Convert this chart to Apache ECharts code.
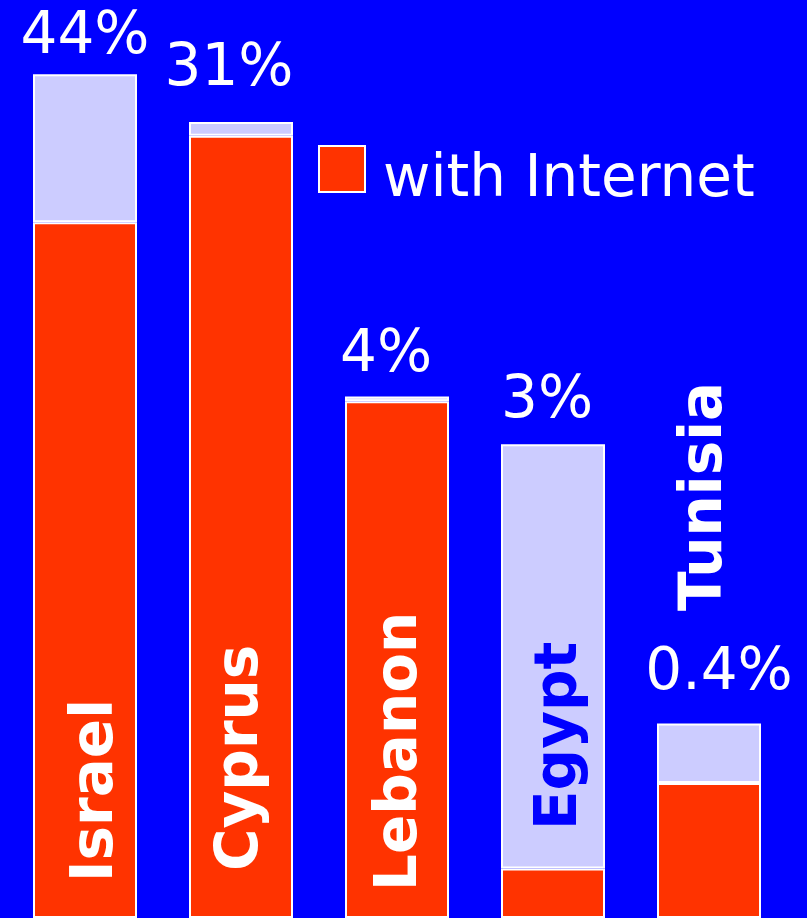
<!DOCTYPE html>
<html>
<head>
<meta charset="utf-8">
<script src="https://cdn.jsdelivr.net/npm/echarts@6/dist/echarts.min.js"></script>
<style>
  html, body { margin: 0; padding: 0; background: #0000ff; }
  #chart { width: 807px; height: 918px; }
</style>
</head>
<body>
<div id="chart"></div>
<script>
// Countries and bar segments (index units)
const countries = ['Israel', 'Cyprus', 'Lebanon', 'Egypt', 'Tunisia'];
const withInternet = [75.8, 85.2, 56.3, 5.4, 14.7];
const withoutInternet = [16.1, 1.5, 0.5, 46.2, 6.5];
const shareLabels = ['44%', '31%', '4%', '3%', '0.4%'];

const RED = '#ff3300';
const LAVENDER = '#ccccff';
const BLUE = '#0000ff';
const FONT = 'DejaVu Sans';

// Placement tweaks for the rotated country names: [shift up from bar base, shift right]
const namePlacement = [[36, 12], [47, 1], [27, 4], [88, 8], [307, -3]];
// Placement tweaks for the share labels above the bars: [dx, dy]
const sharePlacement = [[0, 0], [-12, -16], [-11, -5], [-6, -6], [10, -13]];

const redData = withInternet.map((v, i) => ({
  value: v,
  label: {
    show: true,
    formatter: countries[i],
    position: 'insideBottom',
    distance: 0,
    rotate: 90,
    align: 'left',
    verticalAlign: 'middle',
    offset: namePlacement[i],
    color: countries[i] === 'Egypt' ? BLUE : '#ffffff',
    fontFamily: FONT,
    fontWeight: 'bold',
    fontSize: 58
  }
}));

const topData = withoutInternet.map((v, i) => ({
  value: v,
  label: {
    show: true,
    formatter: shareLabels[i],
    position: 'top',
    distance: 7,
    offset: sharePlacement[i],
    color: '#ffffff',
    fontFamily: FONT,
    fontSize: 58
  }
}));

const chart = echarts.init(document.getElementById('chart'));
chart.setOption({
  backgroundColor: BLUE,
  animation: false,
  grid: { left: 7, right: 20, top: 0, bottom: -5 },
  legend: {
    data: ['with Internet'],
    left: 318,
    top: 128,
    padding: 0,
    itemWidth: 46,
    itemHeight: 46,
    icon: 'rect',
    // a leading empty line drops the text a little below the swatch centre
    formatter: name => '\n' + name,
    textStyle: {
      color: '#ffffff',
      fontFamily: FONT,
      fontSize: 58,
      lineHeight: 24,
      padding: [0, 0, 0, 13]
    }
  },
  xAxis: {
    type: 'category',
    data: countries,
    show: false
  },
  yAxis: {
    type: 'value',
    min: 0,
    max: 100,
    show: false
  },
  series: [
    {
      name: 'with Internet',
      type: 'bar',
      stack: 'total',
      z: 3,
      barWidth: 104,
      itemStyle: { color: RED, borderColor: '#ffffff', borderWidth: 2 },
      data: redData
    },
    {
      name: 'without Internet',
      type: 'bar',
      stack: 'total',
      barWidth: 104,
      itemStyle: { color: LAVENDER, borderColor: '#ffffff', borderWidth: 2 },
      data: topData
    }
  ]
});
</script>
</body>
</html>
